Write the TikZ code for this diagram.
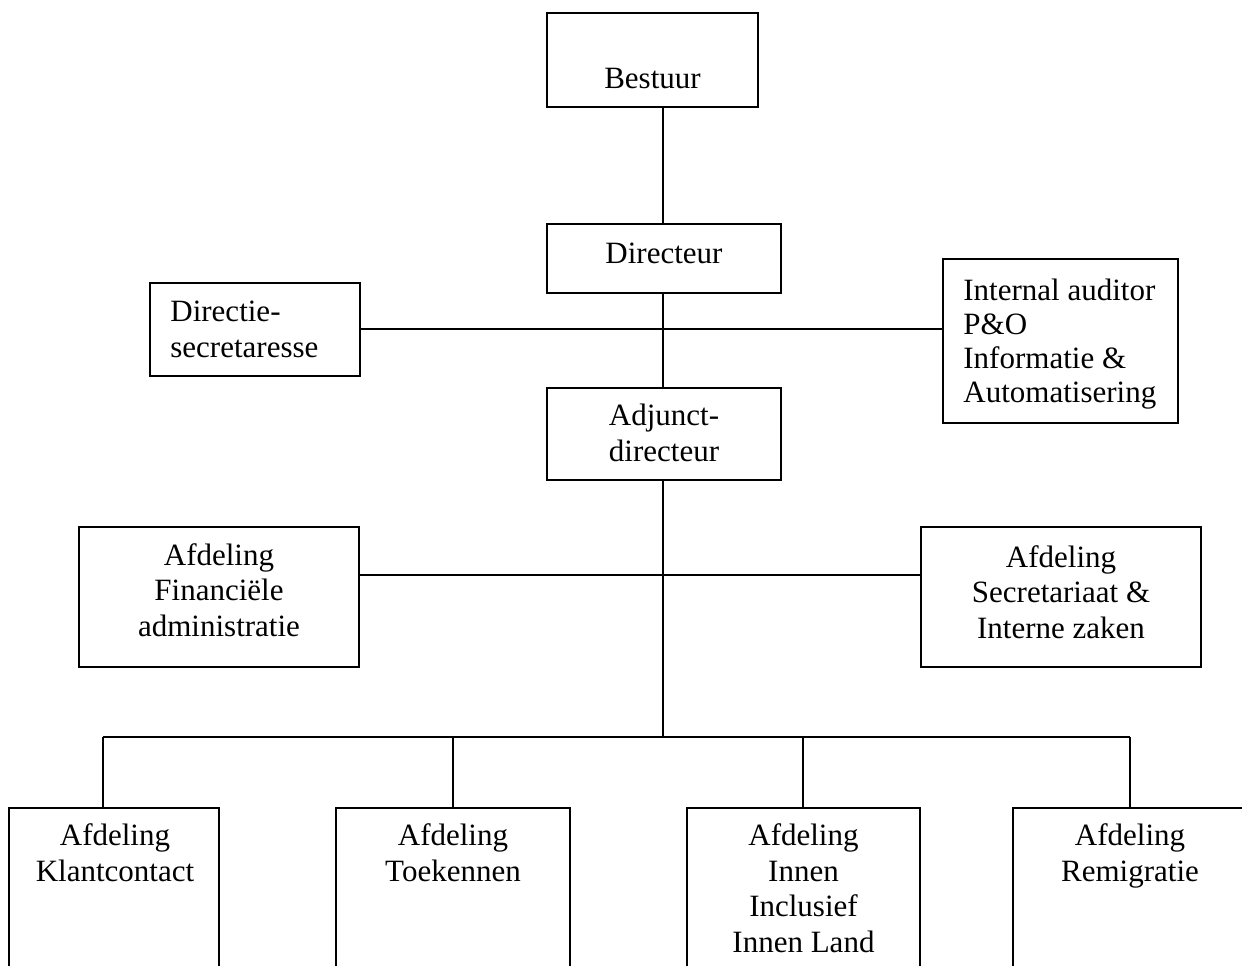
\documentclass[tikz,border=0pt]{standalone}
\usepackage{fontspec}
\setmainfont{Liberation Serif}
\begin{document}
\begin{tikzpicture}[x=0.5pt,y=-0.5pt,
  bx/.style={draw, line width=0.9pt, rectangle, inner sep=0pt},
  conn/.style={line width=0.9pt},
  txt/.style={inner sep=0pt, anchor=base, font=\fontsize{15.5}{17.7}\selectfont},
  ctxt/.style={txt, align=center},
  ltxt/.style={txt, align=left, anchor=base west}]
\useasboundingbox (0,0) rectangle (1242,965);
\clip (0,0) rectangle (1242,965);
\fill[white] (0,0) rectangle (1242,965);

% boxes
\node[bx, minimum width=105.5pt, minimum height=47pt] (best) at (652.5,60) {};
\node[bx, minimum width=117pt, minimum height=34.5pt] (dir) at (664,258.5) {};
\node[bx, minimum width=105pt, minimum height=46.5pt] (sec) at (255,329.5) {};
\node[bx, minimum width=117.5pt, minimum height=82pt] (ia) at (1060.5,341) {};
\node[bx, minimum width=117pt, minimum height=46pt] (adj) at (664,434) {};
\node[bx, minimum width=140pt, minimum height=70pt] (fin) at (219,597) {};
\node[bx, minimum width=140pt, minimum height=70pt] (sz) at (1061,597) {};
\node[bx, minimum width=105pt, minimum height=96pt] (kc) at (114,904) {};
\node[bx, minimum width=117pt, minimum height=96pt] (tk) at (453,904) {};
\node[bx, minimum width=116.5pt, minimum height=96pt] (inn) at (803.5,904) {};
\node[bx, minimum width=117pt, minimum height=96pt] (rm) at (1130,904) {};

% texts (anchor = baseline of the last line)
\node[ctxt] (tbest) at (652.5,88) {Bestuur};
\node[ctxt] (tdir) at (664,263) {Directeur};
\node[ltxt] (tsec) at (170,357) {Directie-\\secretaresse};
\node[ltxt, font=\fontsize{15.5}{17}\selectfont] (tia) at (963,402) {Internal auditor\\P\&O\\Informatie \&\\Automatisering};
\node[ctxt] (tadj) at (664,461) {Adjunct-\\directeur};
\node[ctxt] (tfin) at (219,636) {Afdeling\\Financiële\\administratie};
\node[ctxt] (tsz) at (1061,638) {Afdeling\\Secretariaat \&\\Interne zaken};
\node[ctxt] (tkc) at (115,881) {Afdeling\\Klantcontact};
\node[ctxt] (ttk) at (453,881) {Afdeling\\Toekennen};
\node[ctxt] (tinn) at (803.5,952) {Afdeling\\Innen\\Inclusief\\Innen Land};
\node[ctxt] (trm) at (1130,881) {Afdeling\\Remigratie};

% junction coordinates
\coordinate (sx) at (663,0);
\coordinate (h1) at (663,329);
\coordinate (h2) at (663,575);
\coordinate (d1) at (103,737);
\coordinate (d2) at (453,737);
\coordinate (d3) at (803,737);
\coordinate (d4) at (1130,737);
\coordinate (bus) at (663,737);

% connectors
\draw[conn] (best.south -| sx) -- (dir.north -| sx);
\draw[conn] (dir.south -| sx) -- (adj.north -| sx);
\draw[conn] (sec.east |- h1) -- (ia.west |- h1);
\draw[conn] (adj.south -| sx) -- (bus);
\draw[conn] (fin.east |- h2) -- (sz.west |- h2);
\draw[conn] (d1) -- (d4);
\draw[conn] (d1) -- (d1 |- kc.north);
\draw[conn] (d2) -- (d2 |- tk.north);
\draw[conn] (d3) -- (d3 |- inn.north);
\draw[conn] (d4) -- (d4 |- rm.north);
\end{tikzpicture}
\end{document}
